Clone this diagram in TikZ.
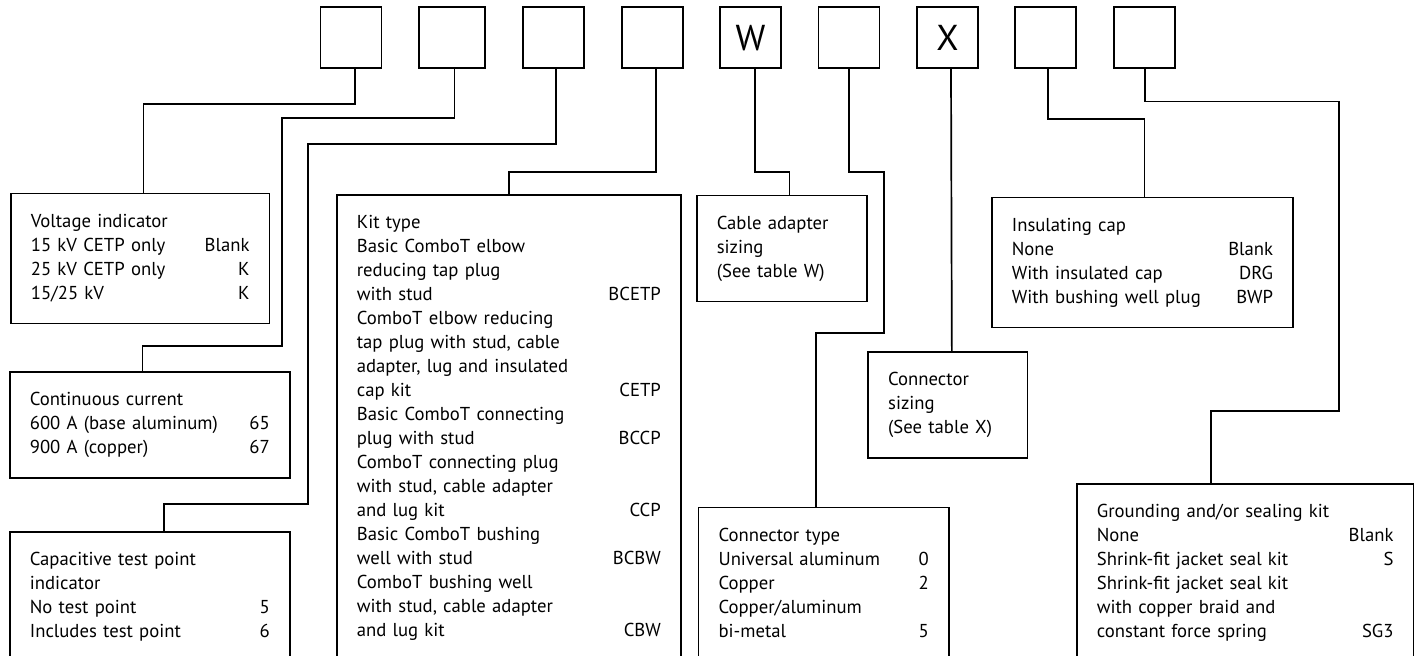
\documentclass[tikz,border=0pt]{standalone}
\usepackage{fontspec}
\setmainfont{PT Sans}
\usetikzlibrary{positioning}

\begin{document}
\begin{tikzpicture}[x=0.5pt, y=-0.5pt, line width=0.85pt, node distance=49.2pt, on grid,
    digit/.style={draw, minimum width=30.5pt, minimum height=30.5pt, inner sep=0pt,
        font=\fontsize{18}{20}\selectfont},
    field/.style={draw, anchor=north west, align=left, inner xsep=10pt, inner ysep=8.5pt,
        font=\fontsize{9.35}{12}\selectfont, execute at begin node=\strut, execute at end node=\strut}]
    \useasboundingbox (0,0) rectangle (1418,656);

    % catalog number boxes
    \node[digit] (b1) at (351,37.8) {};
    \node[digit, minimum width=33pt, right=50.5pt of b1] (b2) {};
    \node[digit, right=50.9pt of b2] (b3) {};
    \node[digit, right=of b3] (b4) {};
    \node[digit, right=of b4] (b5) {W};
    \node[digit, right=of b5] (b6) {};
    \node[digit, right=of b6] (b7) {X};
    \node[digit, right=of b7] (b8) {};
    \node[digit, right=of b8] (b9) {};

    % option fields
    \node[field, text width=109.35pt] (volt) at (10,192.7) {Voltage indicator\\
        15 kV CETP only\hfill Blank\\
        25 kV CETP only\hfill K\\
        15/25 kV\hfill K};
    \node[field, text width=120pt] (curr) at (9,371) {Continuous current\\
        600 A (base aluminum)\hfill 65\\
        900 A (copper)\hfill 67};
    \node[field, text width=120pt] (capt) at (9,531) {Capacitive test point\\
        indicator\\
        No test point\hfill 5\\
        Includes test point\hfill 6};
    \node[field, text width=152pt] (kit) at (336,194.3) {Kit type\\
        Basic ComboT elbow\\
        reducing tap plug\\
        with stud\hfill BCETP\\
        ComboT elbow reducing\\
        tap plug with stud, cable\\
        adapter, lug and insulated\\
        cap kit\hfill CETP\\
        Basic ComboT connecting\\
        plug with stud\hfill BCCP\\
        ComboT connecting plug\\
        with stud, cable adapter\\
        and lug kit\hfill CCP\\
        Basic ComboT bushing\\
        well with stud\hfill BCBW\\
        ComboT bushing well\\
        with stud, cable adapter\\
        and lug kit\hfill CBW};
    \node[field, text width=65.15pt] (cadp) at (696,194.7) {Cable adapter\\
        sizing\\
        (See table W)};
    \node[field, text width=105.15pt] (ctyp) at (697.7,506.7) {Connector type\\
        Universal aluminum\hfill 0\\
        Copper\hfill 2\\
        Copper/aluminum\\
        bi-metal\hfill 5};
    \node[field, text width=59.7pt] (csiz) at (867.3,351) {Connector\\
        sizing\\
        (See table X)};
    \node[field, text width=130.65pt] (icap) at (991,196.7) {Insulating cap\\
        None\hfill Blank\\
        With insulated cap\hfill DRG\\
        With bushing well plug\hfill BWP};
    \node[field, text width=148.35pt] (gkit) at (1076,483.3) {Grounding and/or sealing kit\\
        None\hfill Blank\\
        Shrink-fit jacket seal kit\hfill S\\
        Shrink-fit jacket seal kit\\
        with copper braid and\\
        constant force spring\hfill SG3};

    % leader lines
    \draw ([xshift=2pt]b1.south) -- ++(0,35) -| ([xshift=1.7pt]volt.north);
    \draw ([xshift=1.25pt]b2.south) -- ++(0,48.7) -| (282.3,345.7) -| ([xshift=-3.65pt]curr.north);
    \draw ([xshift=1pt]b3.south) -- ++(0,75) -| (308.3,503.7) -| ([xshift=7.15pt]capt.north);
    \draw ([xshift=1.75pt]b4.south) -- ++(0,103) -| (kit.north);
    \draw ([xshift=2.2pt]b5.south) -- ++(0,103) -| ([xshift=3.8pt]cadp.north);
    \draw (b6.south) -- ++(0,103) -| (884,332.7) -| ([xshift=-3.9pt]ctyp.north);
    \draw ([xshift=1.8pt]b7.south) -- ([xshift=2pt]csiz.north);
    \draw ([xshift=0.95pt]b8.south) -- ++(0,50) -| ([xshift=1pt]icap.north);
    \draw ([xshift=0.4pt]b9.south) -- ++(0,32.4) -| (1338.7,410.7) -| ([xshift=-17pt]gkit.north);
\end{tikzpicture}
\end{document}
